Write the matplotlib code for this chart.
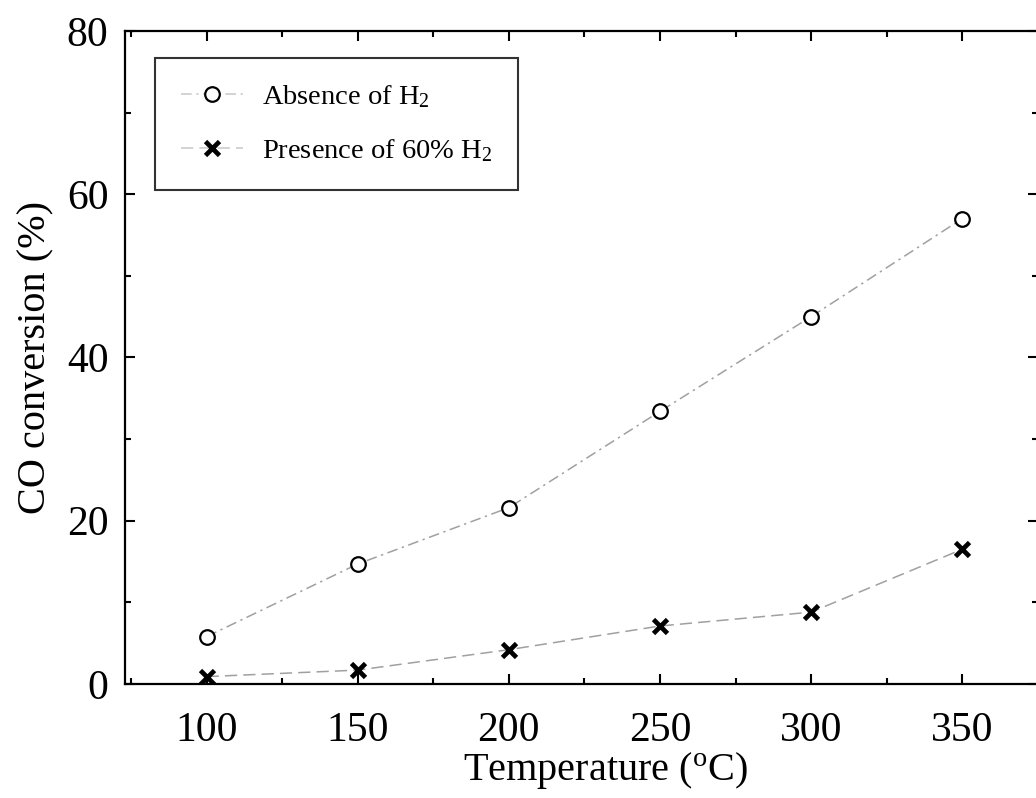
import matplotlib
matplotlib.use("Agg")
import matplotlib.pyplot as plt
from matplotlib.ticker import MultipleLocator

# CO conversion vs. reaction temperature
temperature = [100, 150, 200, 250, 300, 350]
absence_h2 = [5.8, 14.7, 21.6, 33.4, 45.0, 57.0]
presence_h2 = [0.9, 1.7, 4.2, 7.1, 8.8, 16.5]

plt.rcParams["font.family"] = ["Liberation Serif", "DejaVu Serif"]
plt.rcParams["mathtext.fontset"] = "custom"
plt.rcParams["mathtext.rm"] = "Liberation Serif"
plt.rcParams["mathtext.it"] = "Liberation Serif:italic"

fig = plt.figure(figsize=(10.36, 7.98), dpi=100)
ax = fig.add_axes([0.1207, 0.1429, 0.881, 0.8183])

line_col = "#a0a0a0"
ax.plot(temperature, absence_h2, color=line_col, lw=1.1, ls=(0, (7, 3, 1.5, 3)),
        marker="o", ms=10.5, mfc="white", mec="black", mew=1.6,
        label="Absence of H$_2$")
ax.plot(temperature, presence_h2, color=line_col, lw=1.1, ls=(0, (8, 4)),
        marker="x", ms=9.5, mec="black", mew=3.4,
        label="Presence of 60% H$_2$")

ax.set_xlim(73, 375)
ax.set_ylim(0, 80)
ax.xaxis.set_major_locator(MultipleLocator(50))
ax.xaxis.set_minor_locator(MultipleLocator(25))
ax.yaxis.set_major_locator(MultipleLocator(20))
ax.yaxis.set_minor_locator(MultipleLocator(10))

ax.tick_params(which="both", direction="in", top=True, right=True, width=1.5)
ax.tick_params(which="major", length=7, labelsize=30)
ax.tick_params(axis="x", which="major", pad=20)
ax.tick_params(axis="y", which="major", pad=12)
ax.tick_params(which="minor", length=4)
for s in ax.spines.values():
    s.set_linewidth(1.6)

ax.set_xlabel("Temperature ($^{\\mathrm{o}}$C)", fontsize=29)
ax.xaxis.set_label_coords(0.526, -0.101)
ax.set_ylabel("CO conversion (%)", fontsize=29, labelpad=9)

leg = ax.legend(loc="upper left", bbox_to_anchor=(0.033, 0.959), fontsize=20.5,
                frameon=True, fancybox=False, edgecolor="black",
                borderpad=0.9, labelspacing=0.95, handlelength=2.2,
                handletextpad=0.65, borderaxespad=0)
leg.get_frame().set_linewidth(1.5)
for h in leg.get_lines():
    h.set_color("#c8c8c8")

fig.savefig("out.png", dpi=100, facecolor="white")
